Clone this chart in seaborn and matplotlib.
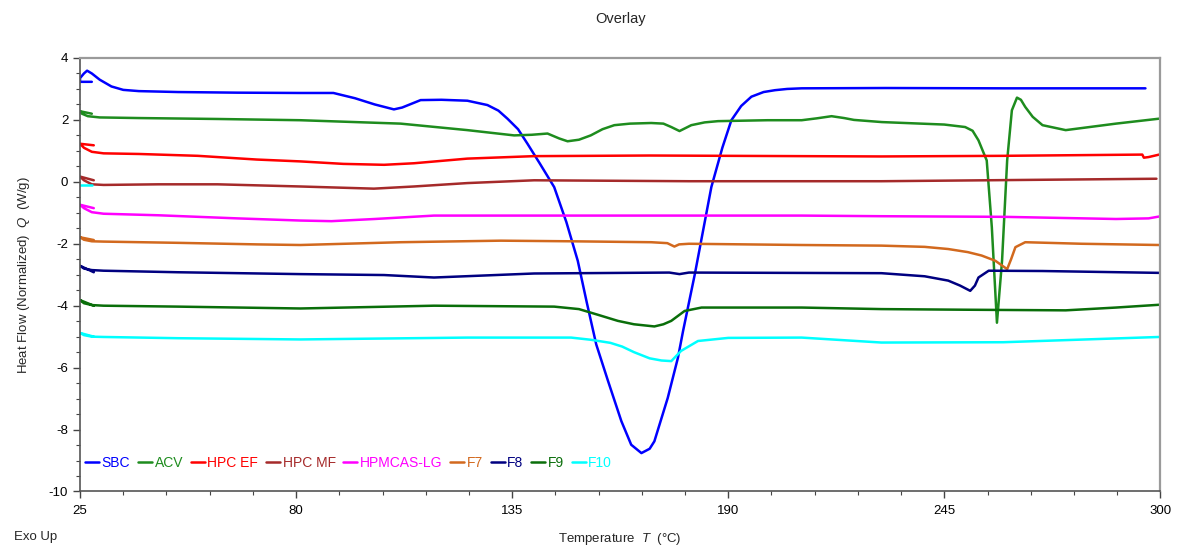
import numpy as np
import matplotlib.pyplot as plt
import seaborn as sns

sns.set_theme(style='white')
plt.rcParams['font.family'] = ['Liberation Sans', 'DejaVu Sans']
plt.rcParams['axes.unicode_minus'] = False
plt.rcParams['mathtext.fontset'] = 'custom'
plt.rcParams['mathtext.it'] = 'Liberation Sans:italic'
plt.rcParams['mathtext.rm'] = 'Liberation Sans'

# --- Data (temperature in C, heat flow in W/g) ---
sbc_t = [28, 25, 25, 26, 26.8, 28, 30, 33, 36, 40, 50, 65, 81, 89.5, 95, 100, 104.9, 107,
         111.7, 117, 123.6, 128.7, 131.5, 133.8, 136.5, 138.9, 142, 145.7, 148.8, 151.7,
         154, 156.4, 159.4, 162.8, 165.3, 167.9, 170, 171.2, 174.6, 177.2, 178.5, 181.5,
         185.7, 188.5, 190.8, 193.3, 195.9, 199, 201.9, 205, 208.7, 230, 260, 296.2]
sbc_q = [3.23, 3.23, 3.35, 3.5, 3.59, 3.5, 3.3, 3.08, 2.97, 2.93, 2.9, 2.88, 2.87, 2.87,
         2.7, 2.5, 2.34, 2.4, 2.64, 2.65, 2.62, 2.48, 2.3, 2.04, 1.7, 1.23, 0.6, -0.17,
         -1.3, -2.55, -3.9, -5.25, -6.43, -7.73, -8.49, -8.76, -8.62, -8.38, -6.98, -5.68,
         -4.82, -2.98, -0.17, 1.1, 1.99, 2.45, 2.75, 2.9, 2.96, 3.0, 3.02, 3.03, 3.02, 3.02]

acv_t = [28, 25, 25.5, 27, 30, 40, 60, 81.1, 106.6, 123.6, 135.5, 140, 144, 147, 149.1,
         152, 155, 158, 161, 165, 170.4, 173.5, 175.5, 177.6, 180.6, 184, 187.4, 200,
         208.7, 212.5, 216.3, 219.5, 222, 229.1, 245, 250.3, 252.2, 253.7, 255.8, 257.1,
         258.4, 259.7, 261, 262.2, 263.5, 264.5, 265.6, 267.5, 270, 275.9, 288.7, 299.7]
acv_q = [2.2, 2.28, 2.2, 2.12, 2.08, 2.06, 2.03, 1.99, 1.88, 1.67, 1.5, 1.52, 1.56, 1.4,
         1.31, 1.36, 1.5, 1.7, 1.83, 1.88, 1.9, 1.88, 1.77, 1.64, 1.83, 1.92, 1.96, 1.99,
         1.99, 2.05, 2.12, 2.06, 2.0, 1.93, 1.85, 1.77, 1.65, 1.34, 0.69, -1.47, -4.55,
         -2.55, 0.69, 2.31, 2.72, 2.65, 2.42, 2.1, 1.83, 1.67, 1.88, 2.04]

hpcef_t = [28.5, 25, 26, 28, 31, 40, 55, 70, 81.1, 92, 102.4, 110, 123.6, 140.6, 170,
           208.7, 229, 260, 295.4, 295.8, 297, 299.7]
hpcef_q = [1.18, 1.23, 1.1, 0.97, 0.92, 0.9, 0.84, 0.72, 0.66, 0.58, 0.55, 0.6, 0.75,
           0.83, 0.85, 0.83, 0.82, 0.84, 0.88, 0.78, 0.8, 0.88]

hpcmf_t = [28.5, 25, 26, 28, 31, 45, 60, 81.1, 99.8, 110, 123.6, 140.6, 180, 229, 299]
hpcmf_q = [0.05, 0.17, 0.05, -0.08, -0.1, -0.08, -0.08, -0.15, -0.22, -0.15, -0.04, 0.05,
           0.02, 0.02, 0.1]

hpmcas_t = [28.5, 25, 26, 28, 31, 45, 65, 81.1, 89, 100, 115.1, 140, 208.7, 229, 260,
            288.7, 297, 299.7]
hpmcas_q = [-0.85, -0.74, -0.85, -0.98, -1.03, -1.08, -1.18, -1.25, -1.27, -1.2, -1.09,
            -1.09, -1.09, -1.11, -1.13, -1.2, -1.18, -1.12]

f7_t = [28.5, 25, 26, 28, 31, 50, 70, 81.1, 106.6, 132.1, 150, 170.4, 174.5, 176.3,
        177.5, 180, 208.7, 229, 240, 246, 251, 254.5, 258, 261, 262, 263.1, 265.6, 280,
        299.7]
f7_q = [-1.88, -1.79, -1.87, -1.92, -1.93, -1.97, -2.02, -2.04, -1.95, -1.9, -1.92,
        -1.95, -1.98, -2.09, -2.02, -2.0, -2.04, -2.06, -2.1, -2.17, -2.27, -2.38, -2.55,
        -2.82, -2.5, -2.11, -1.95, -2.0, -2.04]

f8_t = [28.5, 25, 26, 28, 31, 50, 81.1, 102.4, 115.1, 140.6, 175, 177.6, 180, 229, 240,
        246, 249, 251.6, 252.8, 253.7, 256.3, 270, 299.7]
f8_q = [-2.92, -2.71, -2.8, -2.85, -2.87, -2.92, -2.98, -3.01, -3.09, -2.96, -2.93,
        -2.98, -2.93, -2.95, -3.05, -3.19, -3.35, -3.52, -3.35, -3.09, -2.87, -2.88, -2.94]

f9_t = [28.5, 25, 26, 28, 31, 50, 81.1, 115.1, 145.7, 152, 157, 161.9, 166, 171.2,
        173.5, 175.5, 178.9, 183.2, 208.7, 229, 250, 275.9, 288.7, 299.7]
f9_q = [-4.0, -3.82, -3.92, -3.98, -4.0, -4.03, -4.09, -4.0, -4.03, -4.11, -4.3, -4.49,
        -4.6, -4.67, -4.6, -4.49, -4.17, -4.06, -4.06, -4.11, -4.13, -4.15, -4.06, -3.97]

f10_t = [28.5, 25, 26, 28, 31, 50, 81.1, 123.6, 150, 155, 160, 163, 166, 170, 173,
         175.5, 178, 182.3, 190, 208.7, 229, 260, 299.7]
f10_q = [-5.0, -4.88, -4.95, -5.0, -5.01, -5.05, -5.09, -5.03, -5.03, -5.1, -5.2, -5.32,
         -5.5, -5.7, -5.77, -5.79, -5.46, -5.14, -5.04, -5.03, -5.19, -5.18, -5.01]
f10_stub_t = [28, 25]
f10_stub_q = [-0.09, -0.09]

labels = ['SBC', 'ACV', 'HPC EF', 'HPC MF', 'HPMCAS-LG', 'F7', 'F8', 'F9', 'F10']
colors = ['#0000FF', '#1E8C1E', '#FF0000', '#A52A2A', '#FF00FF', '#D2691E', '#000080',
          '#0A6E0A', '#00FFFF']
series = [(sbc_t, sbc_q), (acv_t, acv_q), (hpcef_t, hpcef_q), (hpcmf_t, hpcmf_q),
          (hpmcas_t, hpmcas_q), (f7_t, f7_q), (f8_t, f8_q), (f9_t, f9_q), (f10_t, f10_q)]

x_major = [25, 80, 135, 190, 245, 300]

fig = plt.figure(figsize=(11.82, 5.47), dpi=100)
ax = fig.add_axes([0.0677, 0.1015, 0.9140, 0.7925])

for (t, q), lab, col in zip(series, labels, colors):
    sns.lineplot(x=t, y=q, sort=False, estimator=None, color=col, lw=1.8,
                 label=lab, ax=ax)
sns.lineplot(x=f10_stub_t, y=f10_stub_q, sort=False, estimator=None, color=colors[-1],
             lw=1.8, legend=False, ax=ax)

ax.set_xlim(25, 300)
ax.set_ylim(-10, 4)
ax.set_xticks(x_major)
ax.set_xticks(np.arange(25, 301, 11), minor=True)
ax.set_yticks(np.arange(-10, 5, 2))
ax.set_yticks(np.arange(-10, 4.01, 0.5), minor=True)
ax.tick_params(which='both', direction='out', colors='#444444', labelcolor='black',
               labelsize=9.5, bottom=True, left=True, top=False, right=False)
ax.tick_params(which='major', length=5, width=1)
ax.tick_params(which='minor', length=3, width=0.8)
ax.tick_params(axis='x', pad=5)

for side in ['left', 'bottom']:
    ax.spines[side].set_color('#555555')
    ax.spines[side].set_linewidth(1.2)
for side in ['top', 'right']:
    ax.spines[side].set_color('#9a9a9a')
    ax.spines[side].set_linewidth(1.6)

ax.set_xlabel(r'Temperature  $T$  (°C)', fontsize=9.5, labelpad=10)
ax.set_ylabel(r'Heat Flow (Normalized)  $Q$  (W/g)', fontsize=9.5, labelpad=12)
ax.set_title('Overlay', fontsize=10.5, pad=25)
fig.text(0.012, 0.008, 'Exo Up', fontsize=9.5, ha='left', va='bottom')

ax.legend(loc='lower left', bbox_to_anchor=(-0.003, 0.03), ncol=9, frameon=False,
          fontsize=10, handlelength=1.0, handletextpad=0.2, columnspacing=0.55,
          labelcolor='linecolor', borderaxespad=0.2)

fig.savefig('out.png', dpi=100)
